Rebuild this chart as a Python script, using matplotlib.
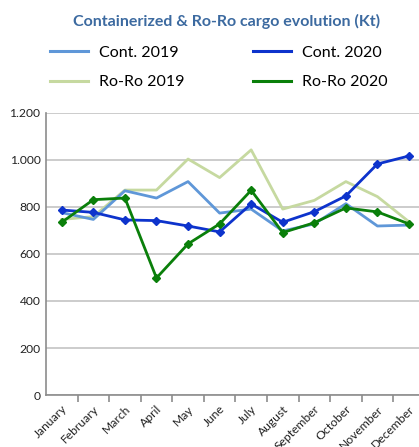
import matplotlib
matplotlib.use("Agg")
import matplotlib.pyplot as plt
from matplotlib.ticker import FuncFormatter, FixedLocator

plt.rcParams["font.family"] = ["Lato", "DejaVu Sans"]

months = ["January", "February", "March", "April", "May", "June", "July",
          "August", "September", "October", "November", "December"]

cont_2019 = [776, 747, 869, 838, 908, 774, 791, 698, 728, 814, 719, 723]
cont_2020 = [787, 777, 745, 742, 719, 694, 813, 735, 780, 847, 983, 1017]
roro_2019 = [747, 759, 872, 872, 1004, 925, 1043, 791, 828, 908, 844, 737]
roro_2020 = [735, 831, 838, 498, 643, 728, 871, 691, 733, 796, 779, 728]

C_CONT19 = "#5f97d8"
C_CONT20 = "#0d33cc"
C_RORO19 = "#c6d9a0"
C_RORO20 = "#0a7f0a"
GRID = "#c8c8c8"
AXIS = "#8c8c8c"

fig = plt.figure(figsize=(4.19, 4.47), dpi=100)
ax = fig.add_axes([0.1098, 0.1163, 0.904, 0.631])

x = list(range(len(months)))
ax.plot(x, cont_2019, color=C_CONT19, lw=2.0, label="Cont. 2019", zorder=3)
ax.plot(x, roro_2019, color=C_RORO19, lw=2.0, label="Ro-Ro 2019", zorder=2)
ax.plot(x, cont_2020, color=C_CONT20, lw=2.0, marker="D", ms=4.5,
        label="Cont. 2020", zorder=4)
ax.plot(x, roro_2020, color=C_RORO20, lw=2.0, marker="D", ms=4.5,
        label="Ro-Ro 2020", zorder=5)

ax.set_xlim(-0.5, len(months) - 0.5)
ax.set_ylim(0, 1200)
ax.set_yticks(range(0, 1201, 200))
ax.yaxis.set_major_formatter(FuncFormatter(lambda v, p: f"{int(v):,}".replace(",", ".")))
ax.yaxis.grid(True, color=GRID, lw=1.3)
ax.set_axisbelow(True)

ax.set_xticks(x)
ax.set_xticklabels(months, rotation=45, ha="right", rotation_mode="anchor",
                   fontsize=8.7, color="#222222")
ax.xaxis.set_minor_locator(FixedLocator([i + 0.5 for i in range(len(months))]))
ax.tick_params(axis="x", which="major", length=0, pad=6)
ax.tick_params(axis="x", which="minor", length=5, width=1.2, color=AXIS,
               direction="out")
ax.tick_params(axis="y", length=0, labelsize=8.7, labelcolor="#222222", pad=4)

for s in ("top", "right"):
    ax.spines[s].set_visible(False)
for s in ("left", "bottom"):
    ax.spines[s].set_color(AXIS)
    ax.spines[s].set_linewidth(1.2)

fig.text(0.54, 0.952, "Containerized & Ro-Ro cargo evolution (Kt)",
         ha="center", va="center", fontsize=11.5, fontweight="bold",
         color="#3c6aa0")

handles, labels = ax.get_legend_handles_labels()
leg_handles = [plt.Line2D([], [], color=h.get_color(), lw=2.2) for h in handles]
fig.legend(leg_handles, labels, ncol=2, loc="upper left",
           bbox_to_anchor=(0.085, 0.93), frameon=False, fontsize=11.5,
           handlelength=2.4, handletextpad=0.65, columnspacing=4.3,
           labelspacing=0.95)

fig.savefig("out.png", dpi=100)
